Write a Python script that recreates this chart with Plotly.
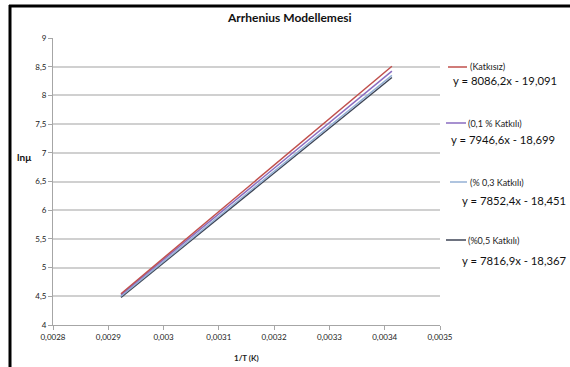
import plotly.graph_objects as go

# 1/T values (K^-1) and ln(mu) for each sample
inv_T = [0.002923, 0.003003, 0.003096, 0.003195, 0.003300, 0.003413]

ln_mu_katkisiz = [4.545, 5.192, 5.944, 6.744, 7.596, 8.507]
ln_mu_01 = [4.529, 5.165, 5.904, 6.690, 7.527, 8.423]
ln_mu_03 = [4.502, 5.130, 5.860, 6.637, 7.464, 8.349]
ln_mu_05 = [4.482, 5.107, 5.834, 6.607, 7.431, 8.312]

series_names = ["(Katkısız)", "(0,1 % Katkılı)", "(% 0,3 Katkılı)", "(%0,5 Katkılı)"]
equations = ["y = 8086,2x - 19,091", "y = 7946,6x - 18,699",
             "y = 7852,4x - 18,451", "y = 7816,9x - 18,367"]
series_values = [ln_mu_katkisiz, ln_mu_01, ln_mu_03, ln_mu_05]
colors = ["#C0504D", "#8A6CC0", "#95B0D4", "#3E4556"]

x_ticks = [0.0028, 0.0029, 0.0030, 0.0031, 0.0032, 0.0033, 0.0034, 0.0035]
x_tick_text = ["0,0028", "0,0029", "0,003", "0,0031", "0,0032", "0,0033", "0,0034", "0,0035"]
y_ticks = [4, 4.5, 5, 5.5, 6, 6.5, 7, 7.5, 8, 8.5, 9]
y_tick_text = ["4", "4,5", "5", "5,5", "6", "6,5", "7", "7,5", "8", "8,5", "9"]

W, H = 570, 367
L, R, T, B = 53, 130, 38, 42
pw, ph = W - L - R, H - T - B

def px(x):
    return (x - L) / pw

def py(y):
    return (H - B - y) / ph

FONT = "Lato, 'Open Sans', sans-serif"

fig = go.Figure()
# draw the lowest series first so the red line sits on top
for name, vals, col in reversed(list(zip(series_names, series_values, colors))):
    fig.add_trace(go.Scatter(x=inv_T, y=vals, mode="lines", name=name,
                             line=dict(color=col, width=1.5), showlegend=False))

shapes = []
annotations = []

# legend swatches, names and fitted-line equations
legend_rows = [
    dict(x0=448, x1=467, y=67, tx=468, eqx=451, eqy=80),
    dict(x0=446, x1=466, y=123, tx=466, eqx=449, eqy=139),
    dict(x0=450, x1=467, y=182, tx=468, eqx=460, eqy=200),
    dict(x0=446, x1=466, y=240, tx=466, eqx=460, eqy=260),
]
for row, name, eq, col in zip(legend_rows, series_names, equations, colors):
    shapes.append(dict(type="line", xref="paper", yref="paper",
                       x0=px(row["x0"]), x1=px(row["x1"]),
                       y0=py(row["y"]), y1=py(row["y"]),
                       line=dict(color=col, width=1.5)))
    annotations.append(dict(xref="paper", yref="paper", x=px(row["tx"]), y=py(row["y"]),
                            xanchor="left", yanchor="middle", showarrow=False,
                            text=name, font=dict(family=FONT, size=9, color="#222")))
    annotations.append(dict(xref="paper", yref="paper", x=px(row["eqx"]), y=py(row["eqy"]),
                            xanchor="left", yanchor="middle", showarrow=False,
                            text=eq, font=dict(family=FONT, size=11.3, color="#111")))

# frame lines along the top and left edge
shapes.append(dict(type="line", xref="paper", yref="paper",
                   x0=px(9), x1=px(571), y0=py(6), y1=py(6),
                   line=dict(color="black", width=3)))
shapes.append(dict(type="line", xref="paper", yref="paper",
                   x0=px(10), x1=px(10), y0=py(5), y1=py(368),
                   line=dict(color="black", width=3)))

annotations.append(dict(xref="paper", yref="paper", x=px(289), y=py(18),
                        xanchor="center", yanchor="middle", showarrow=False,
                        text="<b>Arrhenius Modellemesi</b>",
                        font=dict(family=FONT, size=12, color="#111")))
annotations.append(dict(xref="paper", yref="paper", x=px(246), y=py(358),
                        xanchor="center", yanchor="middle", showarrow=False,
                        text="<b>1/T (K)</b>",
                        font=dict(family=FONT, size=8, color="#222")))
annotations.append(dict(xref="paper", yref="paper", x=px(15), y=py(157),
                        xanchor="left", yanchor="middle", showarrow=False,
                        text="<b>lnμ</b>",
                        font=dict(family=FONT, size=10, color="#111")))

fig.update_layout(
    width=W, height=H,
    margin=dict(l=L, r=R, t=T, b=B),
    paper_bgcolor="white", plot_bgcolor="white",
    shapes=shapes, annotations=annotations,
    xaxis=dict(range=[0.0028, 0.0035], tickvals=x_ticks, ticktext=x_tick_text,
               showgrid=False, zeroline=False, showline=True, linecolor="#A6A6A6",
               linewidth=1, ticks="outside", ticklen=4, tickcolor="#A6A6A6",
               tickfont=dict(family=FONT, size=8, color="#222")),
    yaxis=dict(range=[4, 9], tickvals=y_ticks, ticktext=y_tick_text,
               showgrid=True, gridcolor="#D0D0D0", gridwidth=1.5, zeroline=False,
               showline=True, linecolor="#A6A6A6", linewidth=1,
               ticks="outside", ticklen=4, tickcolor="#A6A6A6",
               tickfont=dict(family=FONT, size=8, color="#222")),
)

fig.write_html("out.html")
